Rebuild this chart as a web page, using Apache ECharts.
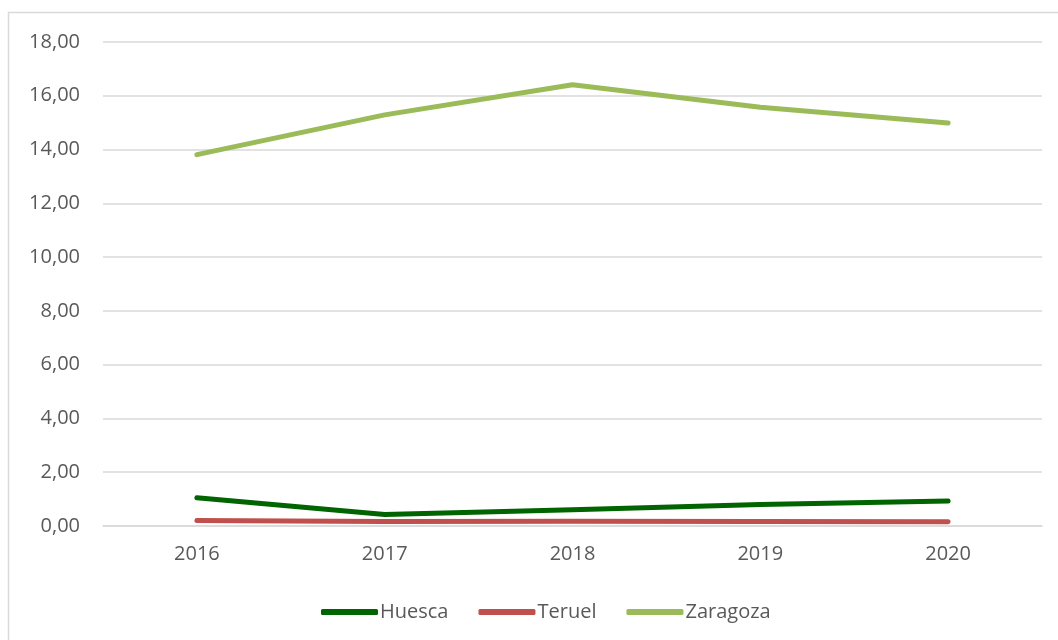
<!DOCTYPE html>
<html>
<head>
    <meta charset="UTF-8">
    <title>Huesca, Teruel, Zaragoza</title>
    <style type="text/css">
        html, body { margin: 0; padding: 0; background: #fff; }
        #main { width: 1058px; height: 640px; }
    </style>
</head>
<body>
<div id="main"></div>
<script src="https://cdn.jsdelivr.net/npm/echarts@6/dist/echarts.min.js"></script>
<script type="text/javascript">
    var years = ['2016', '2017', '2018', '2019', '2020'];
    var huesca = [1.05, 0.43, 0.60, 0.80, 0.93];
    var teruel = [0.20, 0.17, 0.18, 0.17, 0.16];
    var zaragoza = [13.81, 15.29, 16.41, 15.57, 14.99];

    var textColor = '#595959';
    var font = 'Open Sans';

    function serie(name, data, color) {
        return {
            name: name,
            type: 'line',
            data: data,
            symbol: 'none',
            lineStyle: { color: color, width: 5, cap: 'round', join: 'round' },
            itemStyle: { color: color }
        };
    }

    var myChart = echarts.init(document.getElementById('main'));
    var option = {
        animation: false,
        // marco del gráfico
        graphic: [{
            type: 'rect',
            shape: { x: 8.5, y: 12.5, width: 1100, height: 700 },
            style: { fill: 'none', stroke: '#d9d9d9', lineWidth: 1.5 },
            silent: true
        }],
        grid: { left: 103, right: 16, top: 42, bottom: 114 },
        legend: {
            bottom: 13,
            left: 316,
            itemWidth: 57,
            itemHeight: 6,
            itemGap: 30,
            icon: 'roundRect',
            textStyle: { color: textColor, fontSize: 20, fontFamily: font, padding: [0, 0, 0, -3] },
            data: ['Huesca', 'Teruel', 'Zaragoza']
        },
        xAxis: {
            type: 'category',
            data: years,
            axisLine: { lineStyle: { color: '#d9d9d9', width: 1.5 } },
            axisTick: { show: false },
            axisLabel: { color: textColor, fontSize: 20, fontFamily: font, margin: 18 }
        },
        yAxis: {
            type: 'value',
            min: 0,
            max: 18,
            interval: 2,
            axisLine: { show: false },
            axisTick: { show: false },
            splitLine: { lineStyle: { color: '#d9d9d9', width: 1.5 } },
            axisLabel: {
                color: textColor, fontSize: 20, fontFamily: font, margin: 23,
                formatter: function (v) { return v.toFixed(2).replace('.', ','); }
            }
        },
        series: [
            serie('Huesca', huesca, '#006400'),
            serie('Teruel', teruel, '#c0504d'),
            serie('Zaragoza', zaragoza, '#9bbb59')
        ]
    };
    myChart.setOption(option);
</script>
</body>
</html>
